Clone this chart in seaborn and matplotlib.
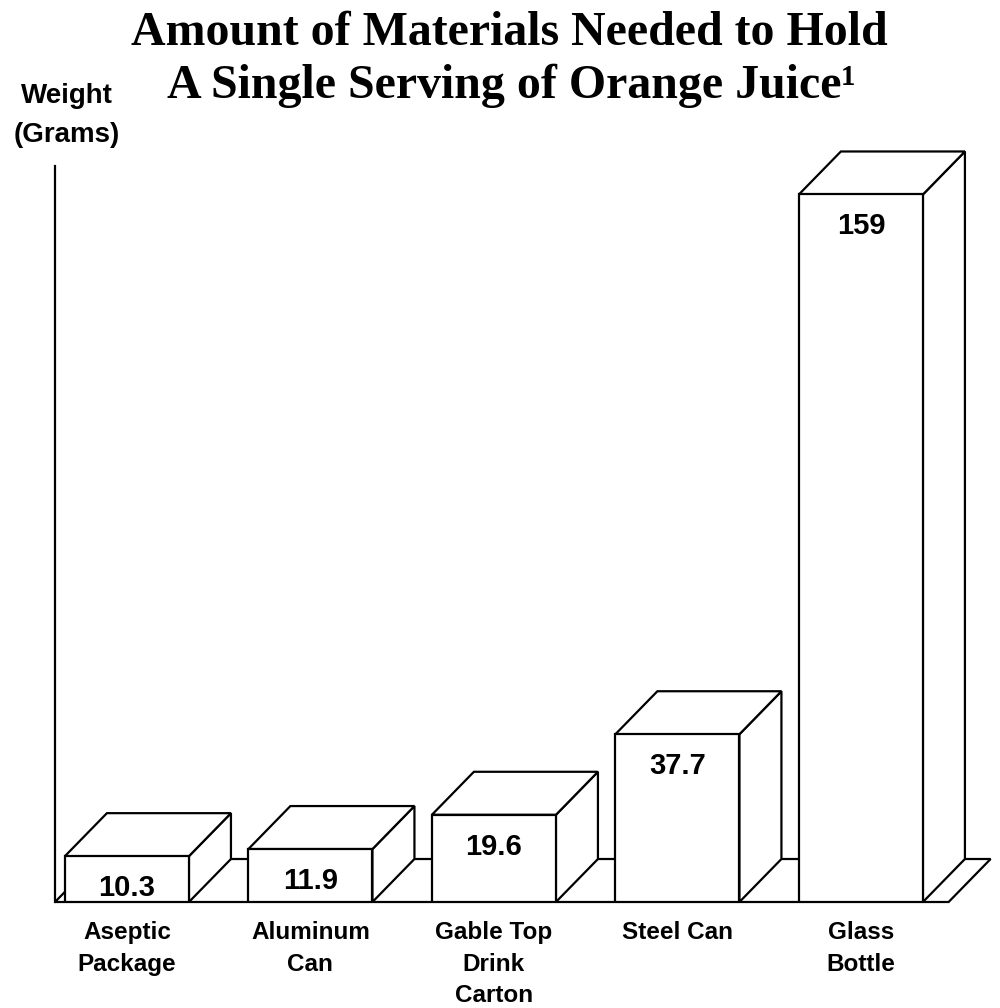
import pandas as pd
import seaborn as sns
import matplotlib.pyplot as plt
from matplotlib.patches import Polygon

# chart data
categories = ["Aseptic\nPackage", "Aluminum\nCan", "Gable Top\nDrink\nCarton", "Steel Can", "Glass\nBottle"]
weights = [10.3, 11.9, 19.6, 37.7, 159]
value_labels = ["10.3", "11.9", "19.6", "37.7", "159"]

title_lines = ["Amount of Materials Needed to Hold", "A Single Serving of Orange Juice\u00b9"]
ylabel_lines = ["Weight", "(Grams)"]

sns.set_theme(style="white")
plt.rcParams["font.family"] = ["Liberation Sans", "DejaVu Sans"]
plt.rcParams["text.color"] = "black"

df = pd.DataFrame({"container": categories, "weight": weights})

W, H = 1000, 1008
fig = plt.figure(figsize=(W / 100, H / 100), dpi=100)
fig.patch.set_facecolor("white")

# axes placed in pixel terms: baseline at y=902, axis top at y=166
base_px, top_px, left_px, right_px = 902, 166, 55, 971
ax = fig.add_axes([left_px / W, 1 - base_px / H, (right_px - left_px) / W, (base_px - top_px) / H])

bar_w = 0.676
lw = 1.6
sns.barplot(data=df, x="container", y="weight", color="white", saturation=1,
            width=bar_w, edgecolor="black", linewidth=lw, ax=ax, zorder=3)

xmin, xmax = -0.392, 4.6
ymax = 165.4
ax.set_xlim(xmin, xmax)
ax.set_ylim(0, ymax)

# depth of the fake 3d boxes, in pixels -> data units
depth_x_px, depth_y_px = 42, 43
dx = depth_x_px * (xmax - xmin) / (right_px - left_px)
dy = depth_y_px * ymax / (base_px - top_px)

# floor slab
xr = len(categories) - 1 + bar_w / 2 + 0.14
floor = Polygon([(xmin, 0), (xr, 0), (xr + dx, dy), (xmin + dx, dy)],
                closed=True, facecolor="white", edgecolor="black", linewidth=lw,
                zorder=1, clip_on=False, joinstyle="miter")
ax.add_patch(floor)

# top and side faces for each bar
for bar in ax.containers[0]:
    x0 = bar.get_x()
    x1 = x0 + bar.get_width()
    h = bar.get_height()
    top = Polygon([(x0, h), (x1, h), (x1 + dx, h + dy), (x0 + dx, h + dy)],
                  closed=True, facecolor="white", edgecolor="black", linewidth=lw,
                  zorder=2, clip_on=False, joinstyle="miter")
    side = Polygon([(x1, 0), (x1 + dx, dy), (x1 + dx, h + dy), (x1, h)],
                   closed=True, facecolor="white", edgecolor="black", linewidth=lw,
                   zorder=2, clip_on=False, joinstyle="miter")
    ax.add_patch(side)
    ax.add_patch(top)

ax.bar_label(ax.containers[0], labels=value_labels, padding=-33,
             fontsize=21, fontweight="bold", color="black")

# axes styling
sns.despine(ax=ax, bottom=True)
ax.spines["left"].set_color("black")
ax.spines["left"].set_linewidth(lw)
ax.set_yticks([])
ax.set_xlabel("")
ax.set_ylabel("")
ax.tick_params(axis="x", length=0, pad=14, labelsize=17.5, colors="black")
for t in ax.get_xticklabels():
    t.set_fontweight("bold")
    t.set_linespacing(1.45)

# y axis caption
fig.text(67 / W, 1 - 103 / H, ylabel_lines[0], ha="center", va="baseline",
         fontsize=20, fontweight="bold", color="black")
fig.text(67 / W, 1 - 142 / H, ylabel_lines[1], ha="center", va="baseline",
         fontsize=20, fontweight="bold", color="black")

# title
fig.text(0.509, 1 - 45 / H, title_lines[0], ha="center", va="baseline", color="black",
         fontsize=34.5, fontweight="bold", family=["Liberation Serif", "DejaVu Serif"])
fig.text(0.511, 1 - 98 / H, title_lines[1], ha="center", va="baseline", color="black",
         fontsize=34.5, fontweight="bold", family=["Liberation Serif", "DejaVu Serif"])

fig.savefig("out.png", dpi=100, facecolor="white")
